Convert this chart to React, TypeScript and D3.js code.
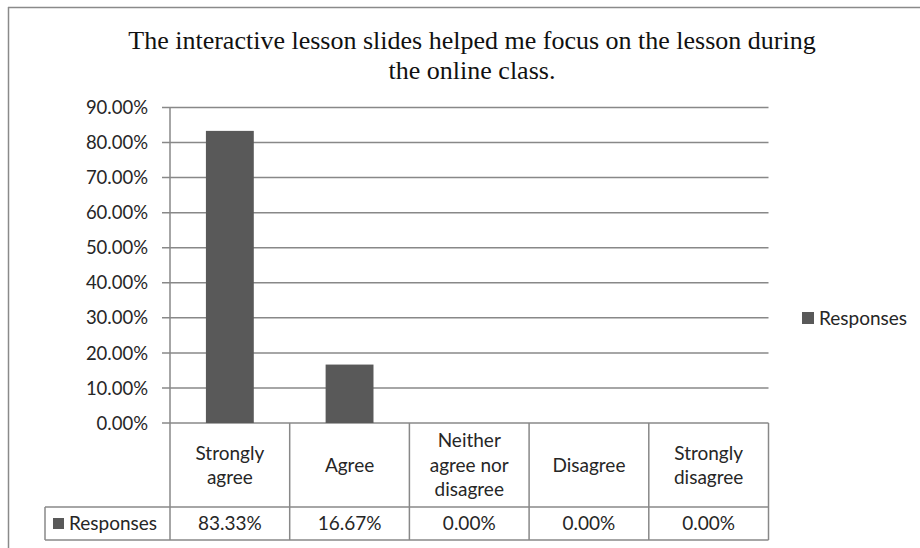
import React from "react";
import * as d3 from "d3";

const titleLines = [
  "The interactive lesson slides helped me focus on the lesson during",
  "the online class.",
];
const categories = [
  "Strongly agree",
  "Agree",
  "Neither agree nor disagree",
  "Disagree",
  "Strongly disagree",
];
const seriesName = "Responses";
const responses = [0.8333, 0.1667, 0, 0, 0];
const yTicks = [0, 0.1, 0.2, 0.3, 0.4, 0.5, 0.6, 0.7, 0.8, 0.9];

const FONT = "Lato, 'Open Sans', sans-serif";
const FS = 19;
const FS_Y = 18.5;

function wrap(text: string, maxW: number, font: string): string[] {
  const canvas = document.createElement("canvas");
  const ctx = canvas.getContext("2d")!;
  ctx.font = font;
  const words = text.split(" ");
  const lines: string[] = [];
  let cur = "";
  for (const w of words) {
    const t = cur ? cur + " " + w : w;
    if (cur && ctx.measureText(t).width > maxW) {
      lines.push(cur);
      cur = w;
    } else cur = t;
  }
  if (cur) lines.push(cur);
  return lines;
}

export default function App() {
  const W = 920, H = 548;
  const left = 170, right = 768.5, top = 107.5, bottom = 423;
  const headerBottom = 507, tableBottom = 540, legendLeft = 45;
  const grid = "#888888";
  const textColor = "#262626";

  const y = d3.scaleLinear().domain([0, 0.9]).range([bottom, top]);
  const xBar = d3.scaleBand<string>().domain(categories).range([left, right]).paddingInner(0.6).paddingOuter(0.3);
  const xCol = d3.scaleBand<string>().domain(categories).range([left, right]).padding(0);
  const fmt = d3.format(".2%");

  const font = `${FS}px Lato`;
  const colBounds = [left, ...categories.map((c) => (xCol(c) as number) + xCol.bandwidth())];

  return (
    <svg width={W} height={H} style={{ position: "absolute", left: 0, top: 0, background: "#fff" }} fontFamily={FONT}>
      <rect x={0} y={0} width={W} height={H} fill="#fff" />
      {/* outer border */}
      <line x1={8.5} y1={7} x2={8.5} y2={H} stroke="#8a8a8a" strokeWidth={1.5} />
      <line x1={8} y1={7.5} x2={W} y2={7.5} stroke="#8a8a8a" strokeWidth={1.5} />

      {/* title */}
      {titleLines.map((t, i) => (
        <text key={i} x={472} y={49 + i * 30} textAnchor="middle" fontFamily="'Liberation Serif', 'Times New Roman', serif" fontSize={26} fill="#111">
          {t}
        </text>
      ))}

      {/* gridlines + y labels */}
      {yTicks.map((t) => (
        <g key={t}>
          <line x1={162} x2={right} y1={y(t)} y2={y(t)} stroke={grid} strokeWidth={1.5} />
          <text x={148} y={y(t)} dy="0.36em" textAnchor="end" fontSize={FS_Y} fill={textColor}>
            {fmt(t)}
          </text>
        </g>
      ))}
      <line x1={left} x2={left} y1={top} y2={bottom} stroke={grid} strokeWidth={1.5} />

      {/* bars */}
      {categories.map((c, i) =>
        responses[i] > 0 ? (
          <rect key={c} x={xBar(c)} y={y(responses[i])} width={xBar.bandwidth()} height={bottom - y(responses[i])} fill="#595959" />
        ) : null
      )}

      {/* data table */}
      {colBounds.map((x, i) => (
        <line key={i} x1={x} x2={x} y1={bottom} y2={tableBottom} stroke={grid} strokeWidth={1.5} />
      ))}
      <line x1={legendLeft} x2={legendLeft} y1={headerBottom} y2={tableBottom} stroke={grid} strokeWidth={1.5} />
      <line x1={legendLeft} x2={right} y1={headerBottom} y2={headerBottom} stroke={grid} strokeWidth={1.5} />
      <line x1={legendLeft} x2={right} y1={tableBottom} y2={tableBottom} stroke={grid} strokeWidth={1.5} />

      {categories.map((c) => {
        const lines = wrap(c, 100, font);
        const cx = (xCol(c) as number) + xCol.bandwidth() / 2;
        const cy = (bottom + headerBottom) / 2;
        const lh = 24.5;
        return (
          <text key={c} x={cx} textAnchor="middle" fontSize={FS} fill={textColor}>
            {lines.map((l, j) => (
              <tspan key={j} x={cx} y={cy + (j - (lines.length - 1) / 2) * lh} dy="0.36em">
                {l}
              </tspan>
            ))}
          </text>
        );
      })}
      {categories.map((c, i) => (
        <text key={c} x={(xCol(c) as number) + xCol.bandwidth() / 2} y={(headerBottom + tableBottom) / 2} dy="0.36em" textAnchor="middle" fontSize={FS} fill={textColor}>
          {fmt(responses[i])}
        </text>
      ))}
      <rect x={53} y={518} width={11} height={11} fill="#595959" />
      <text x={69} y={(headerBottom + tableBottom) / 2} dy="0.36em" fontSize={FS} fill={textColor}>
        {seriesName}
      </text>

      {/* legend */}
      <rect x={802} y={312} width={12} height={12} fill="#595959" />
      <text x={819} y={318} dy="0.36em" fontSize={FS} fill={textColor}>
        {seriesName}
      </text>
    </svg>
  );
}
